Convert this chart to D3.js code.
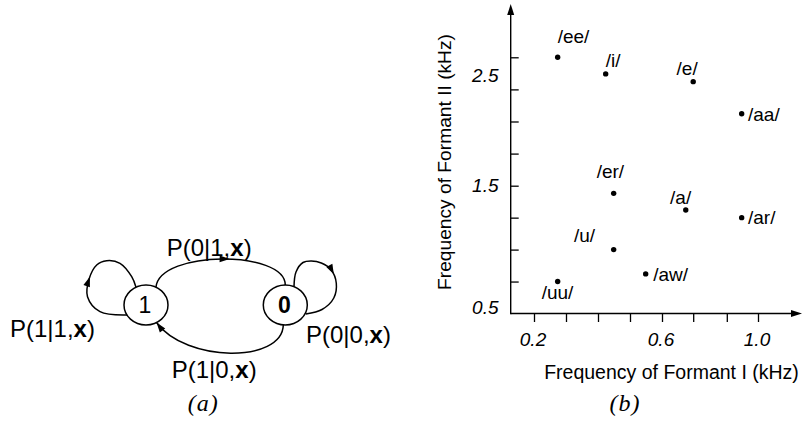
<!DOCTYPE html>
<html><head><meta charset="utf-8">
<script src="https://cdn.jsdelivr.net/npm/d3@7"></script>
<style>body{margin:0;background:#fff}svg{display:block}</style>
</head><body><svg id="c" width="803" height="421"></svg>
<script>
// ---------- Panel (b) data : vowel formant frequencies (kHz) ----------
const vowels   = ["/ee/","/i/","/e/","/aa/","/er/","/a/","/ar/","/u/","/aw/","/uu/"];
const formant1 = [0.274, 0.424, 0.73, 0.932, 0.449, 0.699, 0.932, 0.449, 0.549, 0.274];
const formant2 = [2.66, 2.51, 2.44, 2.15, 1.44, 1.31, 1.25, 1.00, 0.81, 0.75];
const xTickLabels = ["0.2","0.6","1.0"];
const yTickLabels = ["0.5","1.5","2.5"];
const xMinorTicks = [0.2,0.3,0.4,0.5,0.6,0.73,0.87,1.0];
const yMinorTicks = [0.75,1.0,1.25,1.5,1.79,2.08,2.37,2.66];
const xTitle = "Frequency of Formant I (kHz)";
const yTitle = "Frequency of Formant II (kHz)";

// ---------- Panel (a) data : two-state transition diagram ----------
const states = ["1","0"];
const transitions = [
  {from:"1", to:"0", cond:"1", next:"0"},   // P(0|1,x)
  {from:"0", to:"1", cond:"0", next:"1"},   // P(1|0,x)
  {from:"1", to:"1", cond:"1", next:"1"},   // P(1|1,x)
  {from:"0", to:"0", cond:"0", next:"0"}    // P(0|0,x)
];
const captions = ["(a)","(b)"];

const svg = d3.select("#c");
const SANS = "'Liberation Sans', Arial, Helvetica, sans-serif";
const SERIF = "'Liberation Serif', 'DejaVu Serif', serif";

// ================= Panel (b) =================
const ax = {left:510.7, bottom:313.5, right:802, top:4};
const x = d3.scaleLinear().domain(xTickLabels.map(Number)).range([534, 662, 758]);
const y = d3.scaleLinear().domain(yTickLabels.map(Number)).range([ax.bottom, 185.7, 75]);

const gb = svg.append("g");
// axis lines with arrows
gb.append("line").attr("x1",ax.left).attr("x2",ax.right-6).attr("y1",ax.bottom).attr("y2",ax.bottom)
  .attr("stroke","#000").attr("stroke-width",1.4);
gb.append("line").attr("x1",ax.left).attr("x2",ax.left).attr("y1",ax.bottom+0.7).attr("y2",ax.top+8)
  .attr("stroke","#000").attr("stroke-width",1.4);
gb.append("path").attr("d",`M${ax.right},${ax.bottom}L${ax.right-11},${ax.bottom-3.5}L${ax.right-11},${ax.bottom+3.5}Z`);
gb.append("path").attr("d",`M${ax.left},${ax.top}L${ax.left-3.5},${ax.top+11}L${ax.left+3.5},${ax.top+11}Z`);

// minor ticks via d3 axes
const xa = gb.append("g").attr("transform",`translate(0,${ax.bottom})`)
  .call(d3.axisBottom(x).tickValues(xMinorTicks).tickSize(8.5).tickFormat(""));
const ya = gb.append("g").attr("transform",`translate(${ax.left},0)`)
  .call(d3.axisRight(y).tickValues(yMinorTicks).tickSize(8).tickFormat(""));
[xa,ya].forEach(a=>{a.select(".domain").remove();a.selectAll("line").attr("stroke","#000").attr("stroke-width",1.3);});

// tick labels
gb.selectAll("text.xl").data(xTickLabels).join("text").attr("class","xl")
  .attr("x",d=>x(+d)-1).attr("y",346).attr("text-anchor","middle")
  .attr("font-family",SANS).attr("font-style","italic").attr("font-size",19).text(d=>d);
gb.selectAll("text.yl").data(yTickLabels).join("text").attr("class","yl")
  .attr("x",498.5).attr("y",(d,i)=> i===0 ? y(+d)+0.5 : y(+d)+6.7).attr("text-anchor","end")
  .attr("font-family",SANS).attr("font-style","italic").attr("font-size",19).text(d=>d);

// axis titles
gb.append("text").attr("x",671.5).attr("y",379).attr("text-anchor","middle")
  .attr("font-family",SANS).attr("font-size",19.5).text(xTitle);
gb.append("text").attr("transform","translate(450.5,162) rotate(-90)").attr("text-anchor","middle")
  .attr("font-family",SANS).attr("font-size",19.2).text(yTitle);

// points + labels
const labelOffset = {
  "/ee/":[0,-14], "/i/":[0,-7], "/e/":[-16.6,-6.7], "/aa/":[6.3,6.8], "/er/":[-17,-15],
  "/a/":[-15.7,-6], "/ar/":[6.3,6.8], "/u/":[-39.7,-8], "/aw/":[7.6,6.8], "/uu/":[-16,17]
};
const pts = vowels.map((v,i)=>({v, f1:formant1[i], f2:formant2[i]}));
gb.selectAll("circle.pt").data(pts).join("circle").attr("class","pt")
  .attr("cx",d=>x(d.f1)).attr("cy",d=>y(d.f2)).attr("r",2.7).attr("fill","#000");
gb.selectAll("text.pl").data(pts).join("text").attr("class","pl")
  .attr("x",d=>x(d.f1)+labelOffset[d.v][0]).attr("y",d=>y(d.f2)+labelOffset[d.v][1])
  .attr("font-family",SANS).attr("font-size",19).text(d=>d.v);

// ================= Panel (a) =================
const ga = svg.append("g");
const nx = d3.scalePoint().domain(states).range([146, 285.3]);
const ny = 305, rx = 22, ry = 20;
const C = s => ({x:nx(s), y:ny});

function arrowAt(node, frac){
  const L = node.getTotalLength();
  const s = Math.max(2, Math.min(L, frac*L));
  const p = node.getPointAtLength(s), q = node.getPointAtLength(s-2);
  const ang = Math.atan2(p.y-q.y, p.x-q.x)*180/Math.PI;
  ga.append("path").attr("d","M0,0L-10,-3.4L-10,3.4Z").attr("fill","#000")
    .attr("transform",`translate(${p.x},${p.y}) rotate(${ang})`);
}
const stroke = sel => sel.attr("fill","none").attr("stroke","#000").attr("stroke-width",1.5);

// top arc 1 -> 0
{
  const a = C("1"), b = C("0");
  const p = ga.append("path").attr("d",
    `M${a.x+10},${a.y-18}C${a.x+14},${a.y-55} ${b.x},${b.y-55} ${b.x},${b.y-20}`).call(stroke);
  arrowAt(p.node(), 0.56);
}
// bottom arc 0 -> 1
{
  const a = C("0"), b = C("1");
  const p = ga.append("path").attr("d",
    `M${a.x-2},${a.y+20}C${a.x-3},${a.y+58} ${b.x+40},${b.y+58} ${b.x+10.5},${b.y+17.5}`).call(stroke);
  arrowAt(p.node(), 1);
}
// self loops
const loopShape = {
  "1": [[-19,10],[-46,6.7],[-58.5,-8.3],[-57,-25.7],[-49.3,-40],[-39.3,-44.3],[-26,-41.7],[-14.3,-28.3],[-10,-17.8]],
  "0": [[8.7,-18.4],[10.7,-33],[17.7,-42.5],[26,-44],[36,-42],[46,-35],[51,-21.7],[48.5,-7],[36.7,4.5],[20.5,9]]
};
const loopArrow = {"1":0.5, "0":0.52};
const line = d3.line().curve(d3.curveCatmullRom.alpha(0.5));
states.forEach(s=>{
  const c = C(s);
  const p = ga.append("path").attr("d", line(loopShape[s].map(([dx,dy])=>[c.x+dx,c.y+dy]))).call(stroke);
  arrowAt(p.node(), loopArrow[s]);
});
// nodes
states.forEach(s=>{
  const c = C(s);
  ga.append("ellipse").attr("cx",c.x).attr("cy",c.y).attr("rx",rx).attr("ry",ry)
    .attr("fill","#fff").attr("stroke","#000").attr("stroke-width",1.5);
  ga.append("text").attr("x",c.x-1).attr("y",c.y+7.5).attr("text-anchor","middle")
    .attr("font-family",SANS).attr("font-size",23).attr("font-weight",s==="0"?"bold":"normal").text(s);
});
// transition labels
const labelPos = {"1>0":[166.7,255.5], "0>1":[171.7,378.3], "1>1":[10,337.3], "0>0":[306,343.3]};
transitions.forEach(t=>{
  const [lx,ly] = labelPos[t.from+">"+t.to];
  const tx = ga.append("text").attr("x",lx).attr("y",ly).attr("font-family",SANS).attr("font-size",24);
  tx.append("tspan").text(`P(${t.next}|${t.cond},`);
  tx.append("tspan").attr("font-weight","bold").text("x");
  tx.append("tspan").text(")");
});

// captions
svg.selectAll("text.cap").data(captions).join("text").attr("class","cap")
  .attr("x",(d,i)=>[203.3,625][i]).attr("y",411).attr("text-anchor","middle")
  .attr("font-family",SERIF).attr("font-style","italic").attr("font-size",24).attr("letter-spacing",1).text(d=>d);
</script></body></html>
